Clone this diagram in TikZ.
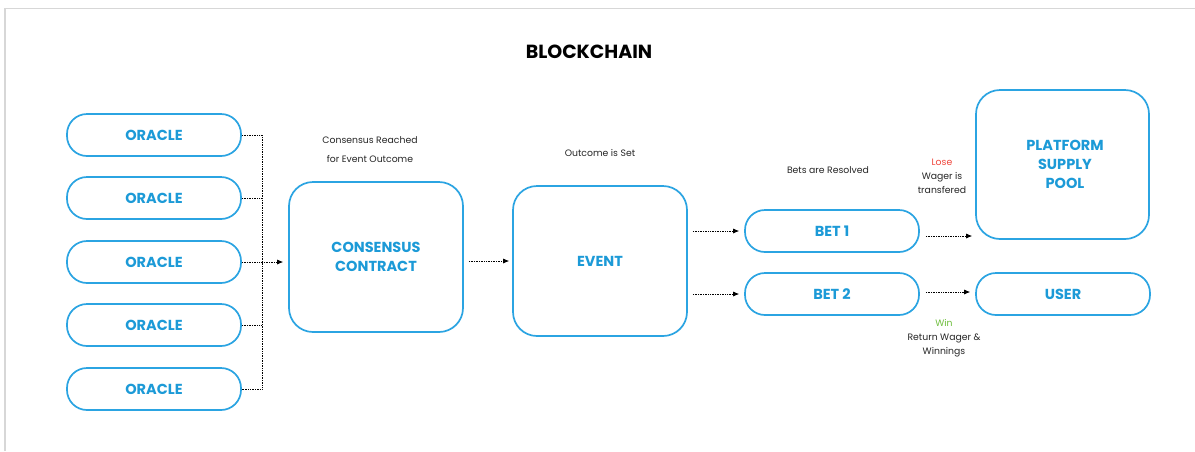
\documentclass[tikz,border=0pt]{standalone}
\usepackage{fontspec}
\setmainfont{Poppins}
\usetikzlibrary{arrows.meta}
\definecolor{bline}{RGB}{43,164,226}
\definecolor{btext}{RGB}{28,154,215}
\definecolor{losered}{RGB}{240,70,60}
\definecolor{wingreen}{RGB}{110,190,60}
\definecolor{frame}{RGB}{215,215,215}
\tikzset{
  pill/.style={draw=bline, line width=1.7pt, rounded corners=20pt, minimum width=174pt, minimum height=42pt, inner sep=0pt, text=btext, font=\fontsize{14.5}{17}\selectfont\bfseries},
  bigbox/.style={draw=bline, line width=1.7pt, rounded corners=24pt, minimum width=174pt, minimum height=150pt, inner sep=0pt, text=btext, align=center, font=\fontsize{14.5}{19}\selectfont\bfseries},
  note/.style={align=center, text=black!85, font=\fontsize{9.3}{14}\selectfont},
  conn/.style={densely dotted, line width=0.7pt, black},
  arr/.style={conn, -{Latex[length=6pt,width=5pt]}}
}
\begin{document}
\begin{tikzpicture}[x=1pt,y=-1pt]
\useasboundingbox (0,0) rectangle (1195,451);
\fill[white] (0,0) rectangle (1195,451);
\draw[frame, line width=1.5pt] (5,451) -- (5,8.5) -- (1195,8.5);
\node[font=\fontsize{19}{22}\selectfont\bfseries] (title) at (589,52) {BLOCKCHAIN};
% oracles
\node[pill] (o1) at (154,135) {ORACLE};
\node[pill] (o2) at (154,198) {ORACLE};
\node[pill] (o3) at (154,262) {ORACLE};
\node[pill] (o4) at (154,325) {ORACLE};
\node[pill] (o5) at (154,389) {ORACLE};
\coordinate (bustop) at (262,135);
\coordinate (busbot) at (262,389);
% boxes
\node[bigbox] (cons) at (376,257) {CONSENSUS\\CONTRACT};
\node[bigbox] (event) at (600,261) {EVENT};
\node[pill] (bet1) at (832,231) {BET 1};
\node[pill] (bet2) at (832,294) {BET 2};
\node[bigbox, minimum width=173pt, minimum height=149pt] (pool) at (1062.5,164.5) {};
\node[text=btext, align=center, font=\fontsize{14.5}{19}\selectfont\bfseries] (pooltext) at (1065,164) {PLATFORM\\SUPPLY\\POOL};
\node[pill] (user) at (1063,294) {USER};
% notes
\node[note, font=\fontsize{9.3}{19}\selectfont] (n1) at (370,150) {Consensus Reached\\for Event Outcome};
\node[note] (n2) at (600,153) {Outcome is Set};
\node[note] (n3) at (828,170) {Bets are Resolved};
\node[note] (n4) at (942,176) {\textcolor{losered}{Lose}\\Wager is\\transfered};
\node[note] (n5) at (944,338) {\textcolor{wingreen}{Win}\\Return Wager \&\\Winnings};
% connectors
\draw[conn] (o1.east) -- (bustop) -- (busbot) -- (o5.east);
\draw[conn] (o2.east) -- (o2.east -| bustop);
\draw[conn] (o4.east) -- (o4.east -| bustop);
\draw[arr, shorten >=5pt] (o3.east) -- (o3.east -| cons.west);
\draw[arr, shorten <=5pt, shorten >=3pt] (cons.east |- event.west) -- (event.west);
\draw[arr, shorten <=5pt, shorten >=5pt] (event.east |- bet1.west) -- (bet1.west);
\draw[arr, shorten <=5pt, shorten >=5pt] (event.east |- bet2.west) -- (bet2.west);
\draw[arr, shorten <=6pt, shorten >=3pt] ([yshift=-5pt]bet1.east) -- ([yshift=-5pt]bet1.east -| pool.west);
\draw[arr, shorten <=6pt, shorten >=5pt] ([yshift=2pt]bet2.east) -- ([yshift=2pt]bet2.east -| user.west);
\end{tikzpicture}
\end{document}
